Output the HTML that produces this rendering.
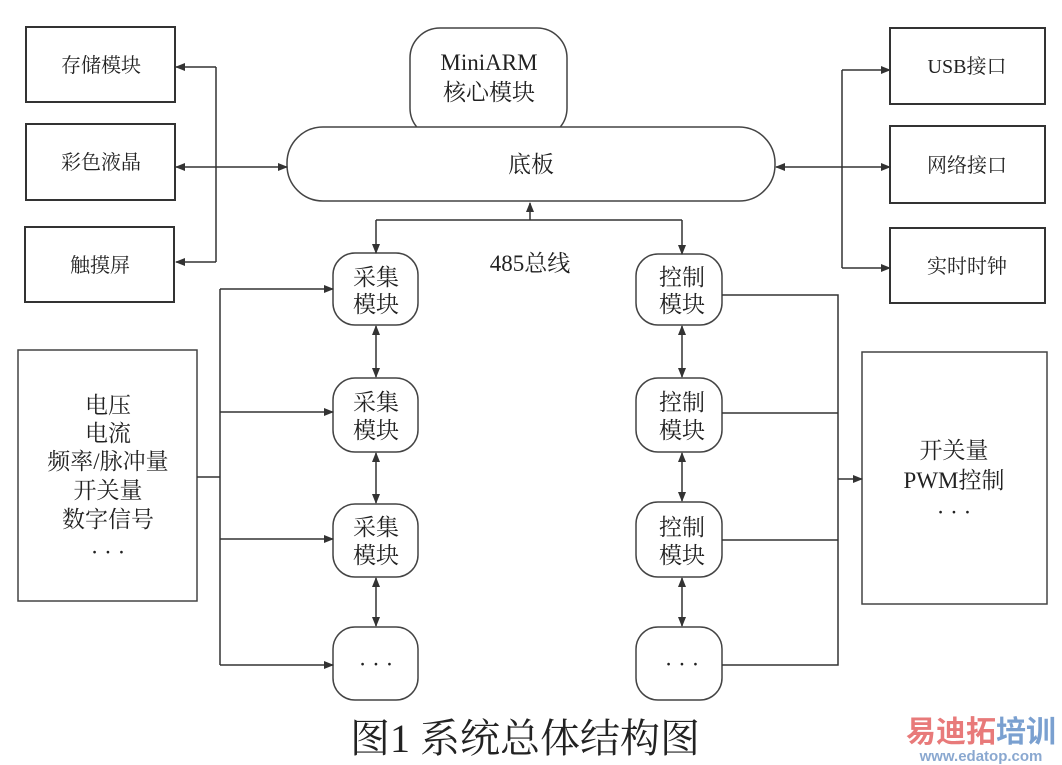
<!DOCTYPE html>
<html><head><meta charset="utf-8"><style>
html,body{margin:0;padding:0;background:#fff;}
svg{display:block;}
text{font-family:"Liberation Serif","Noto Serif CJK SC",serif;fill:#222;}
</style></head><body>
<svg width="1062" height="765" viewBox="0 0 1062 765" xmlns="http://www.w3.org/2000/svg">
<defs>
<marker id="a" markerWidth="10" markerHeight="8" refX="9" refY="4" orient="auto" markerUnits="userSpaceOnUse">
<path d="M0,0 L10,4 L0,8 z" fill="#333"/></marker>
<marker id="s" markerWidth="10" markerHeight="8" refX="1" refY="4" orient="auto" markerUnits="userSpaceOnUse">
<path d="M10,0 L0,4 L10,8 z" fill="#333"/></marker>
</defs>
<rect width="1062" height="765" fill="#fff"/>
<g fill="none" stroke="#333" stroke-width="2">
<rect x="26" y="27" width="149" height="75"/>
<rect x="26" y="124" width="149" height="76"/>
<rect x="25" y="227" width="149" height="75"/>
<rect x="890" y="28" width="155" height="76"/>
<rect x="890" y="126" width="155" height="77"/>
<rect x="890" y="228" width="155" height="75"/>
</g>
<g fill="none" stroke="#444" stroke-width="1.5">
<rect x="18" y="350" width="179" height="251"/>
<rect x="862" y="352" width="185" height="252"/>
<rect x="410" y="28" width="157" height="110" rx="30"/>
<rect x="287" y="127" width="488" height="74" rx="36" fill="#fff"/>
<rect x="333" y="253" width="85" height="72" rx="22"/>
<rect x="333" y="378" width="85" height="74" rx="22"/>
<rect x="333" y="504" width="85" height="73" rx="22"/>
<rect x="333" y="627" width="85" height="73" rx="22"/>
<rect x="636" y="254" width="86" height="71" rx="22"/>
<rect x="636" y="378" width="86" height="74" rx="22"/>
<rect x="636" y="502" width="86" height="75" rx="22"/>
<rect x="636" y="627" width="86" height="73" rx="22"/>
</g>
<g fill="none" stroke="#333" stroke-width="1.5">
<path d="M216 67 V262"/>
<path d="M216 67 H176" marker-end="url(#a)"/>
<path d="M216 262 H176" marker-end="url(#a)"/>
<path d="M176 167 H287" marker-start="url(#s)" marker-end="url(#a)"/>
<path d="M842 70 V268"/>
<path d="M842 70 H890" marker-end="url(#a)"/>
<path d="M842 268 H890" marker-end="url(#a)"/>
<path d="M776 167 H890" marker-start="url(#s)" marker-end="url(#a)"/>
<path d="M530 220 V203" marker-end="url(#a)"/>
<path d="M376 220 H682"/>
<path d="M376 220 V253" marker-end="url(#a)"/>
<path d="M682 220 V254" marker-end="url(#a)"/>
<path d="M376 326 V377" marker-start="url(#s)" marker-end="url(#a)"/>
<path d="M376 453 V503" marker-start="url(#s)" marker-end="url(#a)"/>
<path d="M376 578 V626" marker-start="url(#s)" marker-end="url(#a)"/>
<path d="M682 326 V377" marker-start="url(#s)" marker-end="url(#a)"/>
<path d="M682 453 V501" marker-start="url(#s)" marker-end="url(#a)"/>
<path d="M682 578 V626" marker-start="url(#s)" marker-end="url(#a)"/>
<path d="M197 477 H220"/>
<path d="M220 289 V665"/>
<path d="M220 289 H333" marker-end="url(#a)"/>
<path d="M220 412 H333" marker-end="url(#a)"/>
<path d="M220 539 H333" marker-end="url(#a)"/>
<path d="M220 665 H333" marker-end="url(#a)"/>
<path d="M722 295 H838 V665 H722"/>
<path d="M722 413 H838"/>
<path d="M722 540 H838"/>
<path d="M838 479 H862" marker-end="url(#a)"/>
</g>
<g font-size="20" text-anchor="middle">
<text x="101" y="72">存储模块</text>
<text x="101" y="169">彩色液晶</text>
<text x="100" y="272">触摸屏</text>
<text x="967" y="73">USB接口</text>
<text x="967" y="172">网络接口</text>
<text x="967" y="273">实时时钟</text>
</g>
<g font-size="23" text-anchor="middle">
<text x="489" y="70">MiniARM</text>
<text x="489" y="100">核心模块</text>
<text x="531" y="172">底板</text>
<text x="530" y="271">485总线</text>
<text x="376" y="285">采集</text><text x="376" y="312">模块</text>
<text x="376" y="410">采集</text><text x="376" y="438">模块</text>
<text x="376" y="535">采集</text><text x="376" y="563">模块</text>
<text x="376" y="672">· · ·</text>
<text x="682" y="285">控制</text><text x="682" y="312">模块</text>
<text x="682" y="410">控制</text><text x="682" y="438">模块</text>
<text x="682" y="535">控制</text><text x="682" y="563">模块</text>
<text x="682" y="672">· · ·</text>
<text x="108" y="413">电压</text>
<text x="108" y="441">电流</text>
<text x="108" y="469">频率/脉冲量</text>
<text x="108" y="498">开关量</text>
<text x="108" y="527">数字信号</text>
<text x="108" y="560">· · ·</text>
<text x="954" y="458">开关量</text>
<text x="954" y="488">PWM控制</text>
<text x="954" y="520">· · ·</text>
</g>
<text x="525" y="752" font-size="40" text-anchor="middle">图1 系统总体结构图</text>
<text x="981" y="742" font-size="30" font-weight="bold" text-anchor="middle" style="fill:#e87a7a;font-family:'Noto Sans CJK SC',sans-serif">易迪拓<tspan style="fill:#7aa0d0">培训</tspan></text>
<text x="981" y="761" font-size="15" font-weight="bold" text-anchor="middle" style="fill:#8aa8d0;font-family:'Liberation Sans',sans-serif">www.edatop.com</text>
</svg>
</body></html>
